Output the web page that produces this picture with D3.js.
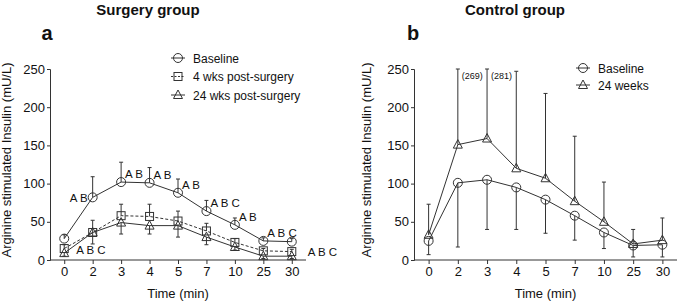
<!DOCTYPE html>
<html>
<head>
<meta charset="utf-8">
<script src="https://cdn.jsdelivr.net/npm/d3@7"></script>
<style>
  body { margin: 0; background: #fff; }
  svg text { font-family: "Liberation Sans", Arial, sans-serif; fill: #111; }
</style>
</head>
<body>
<div id="chart"></div>
<script>
// Time points (categorical x axis)
const timeLabels = ["0", "2", "3", "4", "5", "7", "10", "25", "30"];
const yTicks = [0, 50, 100, 150, 200, 250];

// Panel a - surgery group (means and SD)
const surgeryBaseline = [28, 82, 102, 101, 88, 64, 46, 25, 24];
const surgeryBaselineSd = [5, 27, 26, 20, 18, 14, 9, 4, 4];
const surgery4wk = [15, 36, 58, 57, 51, 38, 23, 12, 11];
const surgery4wkSd = [5, 16, 15, 16, 13, 10, 5, 3, 3];
const surgery24wk = [9, 36, 49, 45, 45, 30, 17, 5, 5];
const surgery24wkSd = [4, 15, 15, 11, 15, 10, 4, 3, 3];
const sigLabels = ["A B C", "A B", "A B", "A B", "A B", "A B C", "A B", "A B C", "A B C"];

// Panel b - control group
const controlBaseline = [25, 101, 105, 95, 79, 58, 36, 19, 20];
const controlBaselineSd = [18, 84, 65, 55, 44, 32, 21, 15, 16];
const control24wk = [33, 151, 159, 120, 107, 77, 50, 21, 26];
const control24wkSd = [40, 118, 122, 127, 111, 85, 52, 19, 29];

const width = 677, height = 305;
const stroke = "#333";
const yLabel = "Arginine stimulated Insulin (mU/L)";

const svg = d3.select("#chart").append("svg")
    .attr("width", width)
    .attr("height", height);

const y = d3.scaleLinear().domain([0, 250]).range([260, 69]);

// symbol helpers
function drawSymbol(g, type, cx, cy) {
    if (type === "circle") {
        g.append("circle").attr("cx", cx).attr("cy", cy).attr("r", 4.5)
            .attr("fill", "none").attr("stroke", stroke).attr("stroke-width", 1);
    } else if (type === "square") {
        g.append("rect").attr("x", cx - 4).attr("y", cy - 4).attr("width", 8).attr("height", 8)
            .attr("fill", "none").attr("stroke", stroke).attr("stroke-width", 1);
    } else {
        const pts = [[cx, cy - 5], [cx - 4.5, cy + 3.5], [cx + 4.5, cy + 3.5]];
        g.append("polygon").attr("points", pts.map(p => p.join(",")).join(" "))
            .attr("fill", "none").attr("stroke", stroke).attr("stroke-width", 1);
    }
}

function drawPanel(opts) {
    const x = d3.scalePoint().domain(timeLabels).range([opts.x0, opts.x1]).padding(0.5);
    const g = svg.append("g");

    // axes
    g.append("g")
        .attr("transform", `translate(0,260)`)
        .call(d3.axisBottom(x).tickSize(4).tickPadding(3))
        .call(a => a.select(".domain").attr("d", `M${opts.x0},0H${opts.x1}`));
    g.append("g")
        .attr("transform", `translate(${opts.x0},0)`)
        .call(d3.axisLeft(y).tickValues(yTicks).tickSize(3).tickPadding(2));
    g.selectAll(".tick text").attr("font-size", 13).style("font-family", '"Liberation Sans", Arial, sans-serif');
    g.selectAll(".domain, .tick line").attr("stroke", stroke);

    g.append("text")
        .attr("transform", `translate(${opts.yLabelX},160) rotate(-90)`)
        .attr("text-anchor", "middle")
        .attr("font-size", 13)
        .text(yLabel);
    g.append("text")
        .attr("x", (opts.x0 + opts.x1) / 2).attr("y", 298)
        .attr("text-anchor", "middle").attr("font-size", 13)
        .text("Time (min)");
    g.append("text")
        .attr("x", opts.titleX).attr("y", 15)
        .attr("text-anchor", "middle").attr("font-size", 15).attr("font-weight", "bold")
        .text(opts.title);
    g.append("text")
        .attr("x", opts.letterX).attr("y", 40)
        .attr("text-anchor", "middle").attr("font-size", 20).attr("font-weight", "bold")
        .text(opts.letter);

    // series
    opts.series.forEach(s => {
        const line = d3.line().x((d, i) => x(timeLabels[i])).y(d => y(d));
        g.append("path").datum(s.values)
            .attr("d", line)
            .attr("fill", "none").attr("stroke", stroke).attr("stroke-width", 1)
            .attr("stroke-dasharray", s.dashed ? "3,2" : null);

        // error bars, one direction only
        s.values.forEach((v, i) => {
            const cx = x(timeLabels[i]);
            let end = s.dir > 0 ? v + s.sd[i] : Math.max(0, v - s.sd[i]);
            end = Math.min(end, 250);
            g.append("line").attr("x1", cx).attr("x2", cx)
                .attr("y1", y(v)).attr("y2", y(end))
                .attr("stroke", stroke).attr("stroke-width", 1);
            g.append("line").attr("x1", cx - 2).attr("x2", cx + 2)
                .attr("y1", y(end)).attr("y2", y(end))
                .attr("stroke", stroke).attr("stroke-width", 1);
            if (s.dir > 0 && v + s.sd[i] > 250) {
                g.append("text")
                    .attr("x", cx + 4).attr("y", y(250) + 10)
                    .attr("font-size", 9)
                    .text(`(${Math.round(v + s.sd[i])})`);
            }
        });
        s.values.forEach((v, i) => drawSymbol(g, s.symbol, x(timeLabels[i]), y(v)));
    });

    // legend
    opts.series.forEach((s, k) => {
        const ly = opts.legendY + k * opts.legendStep;
        g.append("line")
            .attr("x1", opts.legendX - 7).attr("x2", opts.legendX + 7)
            .attr("y1", ly).attr("y2", ly)
            .attr("stroke", stroke).attr("stroke-width", 1)
            .attr("stroke-dasharray", s.dashed ? "2,1.5" : null);
        drawSymbol(g, s.symbol, opts.legendX, ly);
        g.append("text")
            .attr("x", opts.legendX + 15).attr("y", ly + 4.5)
            .attr("font-size", 12)
            .text(s.name);
    });

    return { g, x };
}

// Panel a
const pa = drawPanel({
    x0: 50, x1: 306, yLabelX: 11, title: "Surgery group", titleX: 148,
    letter: "a", letterX: 47,
    legendX: 178, legendY: 58, legendStep: 18.5,
    series: [
        { name: "Baseline", values: surgeryBaseline, sd: surgeryBaselineSd, symbol: "circle", dir: 1 },
        { name: "4 wks post-surgery", values: surgery4wk, sd: surgery4wkSd, symbol: "square", dir: 1, dashed: true },
        { name: "24 wks post-surgery", values: surgery24wk, sd: surgery24wkSd, symbol: "triangle", dir: -1 }
    ]
});

// significance letters in panel a
sigLabels.forEach((lab, i) => {
    const cx = pa.x(timeLabels[i]);
    const t = pa.g.append("text").attr("font-size", 11.5).text(lab);
    if (i === 0) {
        t.attr("x", cx + 12).attr("y", y(surgery24wk[i]) + 1);
    } else if (i === 1) {
        t.attr("x", cx - 5).attr("y", y(surgeryBaseline[i]) + 5).attr("text-anchor", "end");
    } else if (i === timeLabels.length - 1) {
        t.attr("x", cx + 16).attr("y", y(surgery4wk[i]) + 4);
    } else {
        t.attr("x", cx + 4).attr("y", y(surgeryBaseline[i]) - 4);
    }
});

// Panel b
drawPanel({
    x0: 414, x1: 677, yLabelX: 371, title: "Control group", titleX: 515,
    letter: "b", letterX: 413,
    legendX: 583, legendY: 68, legendStep: 17,
    series: [
        { name: "Baseline", values: controlBaseline, sd: controlBaselineSd, symbol: "circle", dir: -1 },
        { name: "24 weeks", values: control24wk, sd: control24wkSd, symbol: "triangle", dir: 1 }
    ]
});
</script>
</body>
</html>
